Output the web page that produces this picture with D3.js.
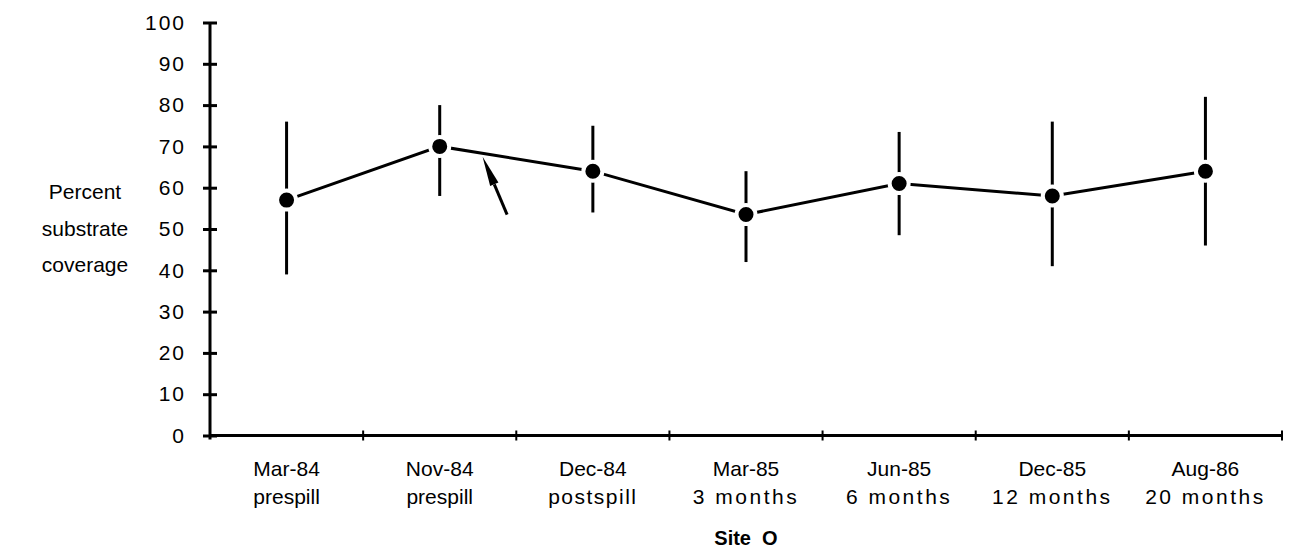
<!DOCTYPE html>
<html>
<head>
<meta charset="utf-8">
<script src="https://cdn.jsdelivr.net/npm/d3@7"></script>
<style>
    body { margin: 0; background: #fff; }
    text {
        fill: #000;
        font-family: "Liberation Sans", Arial, Helvetica, sans-serif;
        font-size: 21px;
    }
    .axis path, .axis line { stroke: #000; stroke-width: 3px; }
    .line { fill: none; stroke: #000; stroke-width: 3px; }
    .err { stroke: #000; stroke-width: 3px; }
    .dot { fill: #000; stroke: #fff; stroke-width: 4px; }
</style>
</head>
<body>
<script>

    // dates and sampling status
    var dates = ["Mar-84", "Nov-84", "Dec-84", "Mar-85", "Jun-85", "Dec-85", "Aug-86"];
    var phases = ["prespill", "prespill", "postspill", "3 months", "6 months", "12 months", "20 months"];

    // percent substrate coverage, mean and range
    var means = [57, 70, 64, 53.5, 61, 58, 64];
    var highs = [76, 80, 75, 64, 73.5, 76, 82];
    var lows = [39, 58, 54, 42, 48.5, 41, 46];

    var yTicks = [0, 10, 20, 30, 40, 50, 60, 70, 80, 90, 100];

    // arrow annotation, in (category index, percent)
    var arrowFrom = [1.44, 53.5];
    var arrowTo = [1.28, 67.5];

    var width = 1289,
        height = 556;

    var svg = d3.select("body").append("svg")
        .attr("width", width)
        .attr("height", height);

    var x = d3.scaleBand().domain(dates).range([210, 1282]);
    var y = d3.scaleLinear().domain([0, 100]).range([435.5, 22.5]);
    var xi = d3.scaleLinear().domain([0, dates.length - 1])
        .range([x(dates[0]) + x.bandwidth() / 2, x(dates[dates.length - 1]) + x.bandwidth() / 2]);

    var data = dates.map(function (d, i) {
        return {date: d, phase: phases[i], mean: means[i], hi: highs[i], lo: lows[i]};
    });

    // y axis, ticks crossing the line
    var yAxis = svg.append("g")
        .attr("class", "axis")
        .attr("transform", "translate(210,0)")
        .call(d3.axisLeft(y).tickValues(yTicks).tickSizeInner(7).tickSizeOuter(0).tickPadding(17));
    yAxis.select(".domain").remove();
    yAxis.selectAll(".tick line").attr("x1", -7).attr("x2", 7);
    yAxis.selectAll(".tick text")
        .style("font-size", "21px")
        .style("letter-spacing", "2px");
    yAxis.append("line")
        .attr("x1", 0).attr("x2", 0)
        .attr("y1", y(100)).attr("y2", y(0) + 4);

    // x axis, ticks on band edges
    var xAxis = svg.append("g").attr("class", "axis");
    xAxis.append("line")
        .attr("x1", x.range()[0]).attr("x2", x.range()[1])
        .attr("y1", y(0)).attr("y2", y(0));
    xAxis.selectAll("line.xt")
        .data(dates)
        .enter().append("line")
        .attr("class", "xt")
        .style("stroke-width", "2px")
        .attr("x1", function (d) { return x(d) + x.step(); })
        .attr("x2", function (d) { return x(d) + x.step(); })
        .attr("y1", y(0) - 5)
        .attr("y2", y(0) + 5);

    var lab = svg.append("g").selectAll("text")
        .data(data)
        .enter().append("text")
        .attr("text-anchor", "middle")
        .attr("x", function (d) { return x(d.date) + x.bandwidth() / 2; })
        .attr("y", 476);
    lab.append("tspan").text(function (d) { return d.date; });
    lab.append("tspan")
        .attr("x", function (d) { return x(d.date) + x.bandwidth() / 2; })
        .attr("dy", 28)
        .style("letter-spacing", function (d) {
            // the old typeface sets these words quite wide
            if (d.phase.indexOf("months") >= 0) return "2.5px";
            if (d.phase === "postspill") return "1.5px";
            return "0px";
        })
        .text(function (d) { return d.phase; });

    svg.append("text")
        .attr("text-anchor", "middle")
        .attr("x", (x.range()[0] + x.range()[1]) / 2)
        .attr("y", 545)
        .style("font-weight", "bold")
        .style("font-size", "20px")
        .attr("xml:space", "preserve")
        .text("Site  O");

    var ylab = svg.append("text")
        .attr("text-anchor", "middle")
        .attr("x", 85)
        .attr("y", 199);
    ["Percent", "substrate", "coverage"].forEach(function (s, i) {
        ylab.append("tspan").attr("x", 85).attr("dy", i === 0 ? 0 : 36.5).text(s);
    });

    // error bars
    svg.append("g").selectAll("line")
        .data(data)
        .enter().append("line")
        .attr("class", "err")
        .attr("x1", function (d) { return x(d.date) + x.bandwidth() / 2; })
        .attr("x2", function (d) { return x(d.date) + x.bandwidth() / 2; })
        .attr("y1", function (d) { return y(d.hi); })
        .attr("y2", function (d) { return y(d.lo); });

    var line = d3.line()
        .x(function (d) { return x(d.date) + x.bandwidth() / 2; })
        .y(function (d) { return y(d.mean); });

    svg.append("path")
        .datum(data)
        .attr("class", "line")
        .attr("d", line);

    svg.append("g").selectAll("circle")
        .data(data)
        .enter().append("circle")
        .attr("class", "dot")
        .attr("cx", function (d) { return x(d.date) + x.bandwidth() / 2; })
        .attr("cy", function (d) { return y(d.mean); })
        .attr("r", 9.5);

    // arrow
    var ax0 = xi(arrowFrom[0]), ay0 = y(arrowFrom[1]),
        ax1 = xi(arrowTo[0]), ay1 = y(arrowTo[1]);
    var ang = Math.atan2(ay1 - ay0, ax1 - ax0);
    var hl = 30, hw = 4.5;
    var bx = ax1 - hl * Math.cos(ang), by = ay1 - hl * Math.sin(ang);
    svg.append("line")
        .attr("x1", ax0).attr("y1", ay0)
        .attr("x2", bx).attr("y2", by)
        .style("stroke", "#000").style("stroke-width", "3px");
    svg.append("path")
        .attr("d", "M" + ax1 + "," + ay1 +
            "L" + (bx + hw * Math.sin(ang)) + "," + (by - hw * Math.cos(ang)) +
            "L" + (bx - hw * Math.sin(ang)) + "," + (by + hw * Math.cos(ang)) + "Z")
        .style("fill", "#000");

</script>
</body>
</html>
